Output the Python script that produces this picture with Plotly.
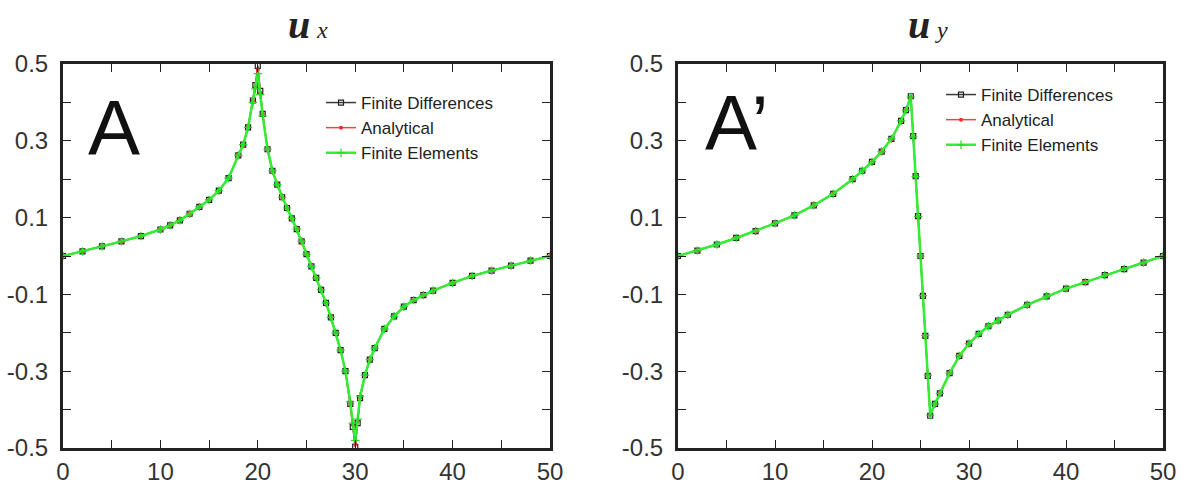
import plotly.graph_objects as go

# ---------------- data ----------------
ux_x = [0, 2, 4, 6, 8, 10, 11, 12, 13, 14, 15, 16, 17, 18, 18.5, 19, 19.5, 19.75,
        20, 20.25, 20.5, 21, 21.5, 22, 22.5, 23, 23.5, 24, 24.5, 25, 25.5, 26, 26.5,
        27, 27.5, 28, 28.5, 29, 29.5, 29.75, 30, 30.25, 30.5, 31, 31.5, 32, 33, 34,
        35, 36, 37, 38, 40, 42, 44, 46, 48, 50]
ux_analytical = [0.000, 0.012, 0.025, 0.038, 0.052, 0.069, 0.080, 0.093, 0.110, 0.128,
                 0.146, 0.170, 0.203, 0.262, 0.290, 0.335, 0.405, 0.440,
                 0.485, 0.425, 0.370, 0.278, 0.222, 0.186, 0.153, 0.125, 0.098, 0.070,
                 0.038, 0.005, -0.027, -0.057, -0.088, -0.122, -0.160, -0.200, -0.245,
                 -0.300, -0.385, -0.440, -0.490, -0.430, -0.370, -0.310, -0.270, -0.240,
                 -0.190, -0.157, -0.132, -0.115, -0.102, -0.090, -0.070, -0.052, -0.038,
                 -0.025, -0.012, 0.000]
ux_fd = [0.000, 0.012, 0.025, 0.038, 0.052, 0.069, 0.080, 0.093, 0.110, 0.128,
         0.146, 0.170, 0.203, 0.262, 0.290, 0.335, 0.405, 0.445,
         0.495, 0.430, 0.370, 0.278, 0.222, 0.186, 0.153, 0.125, 0.098, 0.070,
         0.038, 0.005, -0.027, -0.057, -0.088, -0.122, -0.160, -0.200, -0.245,
         -0.300, -0.385, -0.445, -0.497, -0.435, -0.370, -0.310, -0.270, -0.240,
         -0.190, -0.157, -0.132, -0.115, -0.102, -0.090, -0.070, -0.052, -0.038,
         -0.025, -0.012, 0.000]
ux_fe = [0.000, 0.012, 0.025, 0.038, 0.052, 0.069, 0.080, 0.093, 0.110, 0.128,
         0.146, 0.170, 0.203, 0.262, 0.290, 0.335, 0.400, 0.435,
         0.475, 0.420, 0.365, 0.278, 0.222, 0.186, 0.153, 0.125, 0.098, 0.070,
         0.038, 0.005, -0.027, -0.057, -0.088, -0.122, -0.160, -0.200, -0.245,
         -0.300, -0.380, -0.435, -0.480, -0.425, -0.365, -0.310, -0.270, -0.240,
         -0.190, -0.157, -0.132, -0.115, -0.102, -0.090, -0.070, -0.052, -0.038,
         -0.025, -0.012, 0.000]

uy_x = [0, 2, 4, 6, 8, 10, 12, 14, 16, 18, 19, 20, 21, 22, 23, 23.5, 24,
        24.25, 24.5, 24.75, 25, 25.25, 25.5, 25.75, 26, 26.5, 27, 28, 29, 30,
        31, 32, 33, 34, 36, 38, 40, 42, 44, 46, 48, 50]
uy_analytical = [0.000, 0.014, 0.030, 0.047, 0.065, 0.085, 0.106, 0.132, 0.162, 0.200,
                 0.222, 0.245, 0.272, 0.305, 0.352, 0.380, 0.414,
                 0.310, 0.207, 0.103, 0.000, -0.103, -0.207, -0.310, -0.414, -0.385,
                 -0.358, -0.305, -0.260, -0.228, -0.203, -0.183, -0.168, -0.153,
                 -0.127, -0.105, -0.085, -0.068, -0.050, -0.034, -0.017, 0.000]
uy_fd = [0.000, 0.014, 0.030, 0.047, 0.065, 0.085, 0.106, 0.132, 0.162, 0.200,
         0.222, 0.245, 0.272, 0.305, 0.352, 0.380, 0.416,
         0.312, 0.208, 0.104, 0.000, -0.104, -0.208, -0.312, -0.416, -0.385,
         -0.358, -0.305, -0.260, -0.228, -0.203, -0.183, -0.168, -0.153,
         -0.127, -0.105, -0.085, -0.068, -0.050, -0.034, -0.017, 0.000]
uy_fe = [0.000, 0.014, 0.030, 0.047, 0.065, 0.085, 0.106, 0.132, 0.162, 0.200,
         0.222, 0.245, 0.272, 0.305, 0.352, 0.380, 0.414,
         0.310, 0.207, 0.103, 0.000, -0.103, -0.207, -0.310, -0.414, -0.385,
         -0.358, -0.305, -0.260, -0.228, -0.203, -0.183, -0.168, -0.153,
         -0.127, -0.105, -0.085, -0.068, -0.050, -0.034, -0.017, 0.000]

series_names = ["Finite Differences", "Analytical", "Finite Elements"]
x_tick_vals = [0, 5, 10, 15, 20, 25, 30, 35, 40, 45, 50]
x_tick_text = ["0", "", "10", "", "20", "", "30", "", "40", "", "50"]
y_tick_vals = [-0.5, -0.4, -0.3, -0.2, -0.1, 0.0, 0.1, 0.2, 0.3, 0.4, 0.5]
y_tick_text = ["-0.5", "", "-0.3", "", "-0.1", "", "0.1", "", "0.3", "", "0.5"]
panel_letters = ["A", "A\u2019"]
# ---------------------------------------------------------------

W, H = 1183, 487
SANS = "Liberation Sans, Arial, sans-serif"
SERIF = "Liberation Serif, Times New Roman, serif"

styles = [
    dict(line=dict(color="#3a3a3a", width=1.5),
         marker=dict(symbol="square-open", size=5, color="#222222", line=dict(width=1.2))),
    dict(line=dict(color="#ee4444", width=1.5),
         marker=dict(symbol="circle", size=4, color="#e83030")),
    dict(line=dict(color="#33ee33", width=2.5),
         marker=dict(symbol="cross-thin", size=6, color="#22dd22", line=dict(width=1.2, color="#22dd22"))),
]

fig = go.Figure()
panels = [
    (ux_x, [ux_fd, ux_analytical, ux_fe], "x", "y", "legend"),
    (uy_x, [uy_fd, uy_analytical, uy_fe], "x2", "y2", "legend2"),
]
for xs, ys_list, xa, ya, lg in panels:
    for name, ys, st in zip(series_names, ys_list, styles):
        fig.add_trace(go.Scatter(x=xs, y=ys, name=name, mode="lines+markers",
                                 xaxis=xa, yaxis=ya, legend=lg, **st))

def px_x(p):
    return p / W

def px_y(p):
    return 1 - p / H

axis_common = dict(showline=True, linewidth=3, linecolor="#222222", mirror="allticks",
                   ticks="inside", ticklen=8, tickwidth=1, tickcolor="#222222",
                   showgrid=False, zeroline=False, automargin=False,
                   tickfont=dict(family=SANS, size=24, color="#333333"))

ydom = [px_y(448), px_y(64)]
fig.update_layout(
    width=W, height=H, margin=dict(l=0, r=0, t=0, b=0, autoexpand=False),
    paper_bgcolor="white", plot_bgcolor="white",
    xaxis=dict(domain=[px_x(63), px_x(550)], range=[0, 50], anchor="y",
               tickmode="array", tickvals=x_tick_vals, ticktext=x_tick_text,
               ticklabelstandoff=0, **axis_common),
    yaxis=dict(domain=ydom, range=[-0.5, 0.5], anchor="x",
               tickmode="array", tickvals=y_tick_vals, ticktext=y_tick_text,
               ticklabelstandoff=7, **axis_common),
    xaxis2=dict(domain=[px_x(678), px_x(1163)], range=[0, 50], anchor="y2",
                tickmode="array", tickvals=x_tick_vals, ticktext=x_tick_text,
                ticklabelstandoff=0, **axis_common),
    yaxis2=dict(domain=ydom, range=[-0.5, 0.5], anchor="x2",
                tickmode="array", tickvals=y_tick_vals, ticktext=y_tick_text,
                ticklabelstandoff=7, **axis_common),
    legend=dict(x=px_x(321), y=px_y(85), xanchor="left", yanchor="top",
                bgcolor="rgba(0,0,0,0)", font=dict(family=SANS, size=17, color="#222222"),
                tracegroupgap=0),
    legend2=dict(x=px_x(941), y=px_y(77), xanchor="left", yanchor="top",
                 bgcolor="rgba(0,0,0,0)", font=dict(family=SANS, size=17, color="#222222"),
                 tracegroupgap=0),
    showlegend=True,
)

annotations = [
    dict(text=panel_letters[0], x=px_x(114), y=px_y(128), xref="paper", yref="paper",
         xanchor="center", yanchor="middle", showarrow=False,
         font=dict(family=SANS, size=78, color="#111111")),
    dict(text=panel_letters[1], x=px_x(737), y=px_y(123), xref="paper", yref="paper",
         xanchor="center", yanchor="middle", showarrow=False,
         font=dict(family=SANS, size=78, color="#111111")),
    dict(text="<b><i>u</i></b>", x=px_x(299), y=1.0, xref="paper", yref="paper",
         xanchor="center", yanchor="top", showarrow=False,
         font=dict(family=SERIF, size=40, color="#222222")),
    dict(text="<i>x</i>", x=px_x(322), y=px_y(15), xref="paper", yref="paper",
         xanchor="center", yanchor="top", showarrow=False,
         font=dict(family=SERIF, size=24, color="#222222")),
    dict(text="<b><i>u</i></b>", x=px_x(919), y=1.0, xref="paper", yref="paper",
         xanchor="center", yanchor="top", showarrow=False,
         font=dict(family=SERIF, size=40, color="#222222")),
    dict(text="<i>y</i>", x=px_x(941), y=px_y(15), xref="paper", yref="paper",
         xanchor="center", yanchor="top", showarrow=False,
         font=dict(family=SERIF, size=24, color="#222222")),
]
fig.update_layout(annotations=annotations)

fig.write_html("out.html")
